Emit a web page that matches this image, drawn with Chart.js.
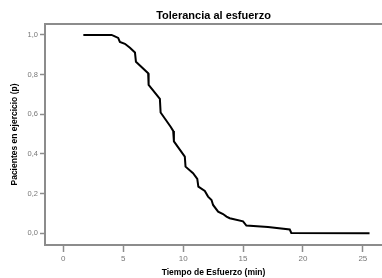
<!DOCTYPE html>
<html>
<head>
<meta charset="utf-8">
<script src="https://cdn.jsdelivr.net/npm/chart.js@4/dist/chart.umd.min.js"></script>
<style>
  html, body { margin: 0; padding: 0; background: #fff; }
  #wrap { width: 382px; height: 278px; }
</style>
</head>
<body>
<div id="wrap"><canvas id="c" width="382" height="278"></canvas></div>
<script>
// Survival curve (time in minutes, proportion still exercising)
const timeMin = [1.67, 4.03, 4.3, 4.58, 4.72, 5.14, 5.56, 5.98, 6.06, 7.08, 7.12, 8.06, 8.12, 8.97, 9.17, 9.23, 10.14, 10.2, 10.83, 11.18, 11.27, 11.81, 12.08, 12.37, 12.5, 12.92, 13.33, 13.62, 13.89, 15.0, 15.28, 17.08, 18.9, 19.03, 25.56];
const pExercise = [1.0, 1.0, 0.993, 0.985, 0.965, 0.955, 0.935, 0.911, 0.865, 0.807, 0.748, 0.677, 0.609, 0.536, 0.516, 0.463, 0.386, 0.336, 0.303, 0.274, 0.235, 0.213, 0.185, 0.168, 0.143, 0.109, 0.097, 0.084, 0.076, 0.060, 0.039, 0.032, 0.019, 0.002, 0.0];
const xTicks = [0, 5, 10, 15, 20, 25];
const yTicks = [0.0, 0.2, 0.4, 0.6, 0.8, 1.0];
const chartTitle = 'Tolerancia al esfuerzo';
const xTitle = 'Tiempo de Esfuerzo (min)';
const yTitle = 'Pacientes en ejercicio (p)';

const points = timeMin.map((t, i) => ({ x: t, y: pExercise[i] }));
const axisGray = '#8c8c8c';
const labelGray = '#777777';
const fam = '"Liberation Sans", Arial, sans-serif';

const topBorder = {
  id: 'topBorder',
  afterDraw(chart) {
    const { ctx, chartArea } = chart;
    ctx.save();
    ctx.strokeStyle = axisGray;
    ctx.lineWidth = 2;
    ctx.beginPath();
    ctx.moveTo(chartArea.left - 1, chartArea.top);
    ctx.lineTo(chartArea.right, chartArea.top);
    ctx.stroke();
    ctx.restore();
  }
};

new Chart(document.getElementById('c'), {
  type: 'line',
  data: {
    datasets: [{
      data: points,
      borderColor: '#000000',
      borderWidth: 2,
      pointRadius: 0,
      tension: 0,
      fill: false
    }]
  },
  options: {
    responsive: false,
    animation: false,
    layout: { padding: { left: 0, right: 0, top: 0, bottom: 0 } },
    plugins: {
      legend: { display: false },
      tooltip: { enabled: false },
      title: {
        display: true,
        text: chartTitle,
        fullSize: false,
        color: '#000',
        font: { family: fam, size: 11, weight: 'bold' },
        padding: { top: 9.5, bottom: 1.3 }
      }
    },
    scales: {
      x: {
        type: 'linear',
        min: -1.53,
        max: 26.6,
        afterBuildTicks: s => { s.ticks = xTicks.map(v => ({ value: v })); },
        afterFit: s => { s.height = 33; },
        border: { display: true, color: axisGray, width: 2 },
        grid: { drawOnChartArea: false, drawTicks: true, tickLength: 7, tickColor: axisGray, tickWidth: 1.5 },
        ticks: { color: labelGray, font: { family: fam, size: 8 }, padding: 2, maxRotation: 0, autoSkip: false },
        title: { display: true, text: xTitle, color: '#000', font: { family: fam, size: 8.5, weight: 'bold' }, padding: { top: 0, bottom: 0 } }
      },
      y: {
        type: 'linear',
        min: -0.059,
        max: 1.055,
        afterBuildTicks: s => { s.ticks = yTicks.map(v => ({ value: v })); },
        afterFit: s => { s.width = 45; },
        border: { display: true, color: axisGray, width: 2 },
        grid: { drawOnChartArea: false, drawTicks: true, tickLength: 5, tickColor: axisGray, tickWidth: 1.5 },
        ticks: {
          color: labelGray,
          font: { family: fam, size: 7.5 },
          padding: 2,
          autoSkip: false,
          callback: v => v.toFixed(1).replace('.', ',')
        },
        title: { display: true, text: yTitle, color: '#000', font: { family: fam, size: 8.5, weight: 'bold' }, padding: { top: 10, bottom: 0 } }
      }
    }
  },
  plugins: [topBorder]
});
</script>
</body>
</html>
